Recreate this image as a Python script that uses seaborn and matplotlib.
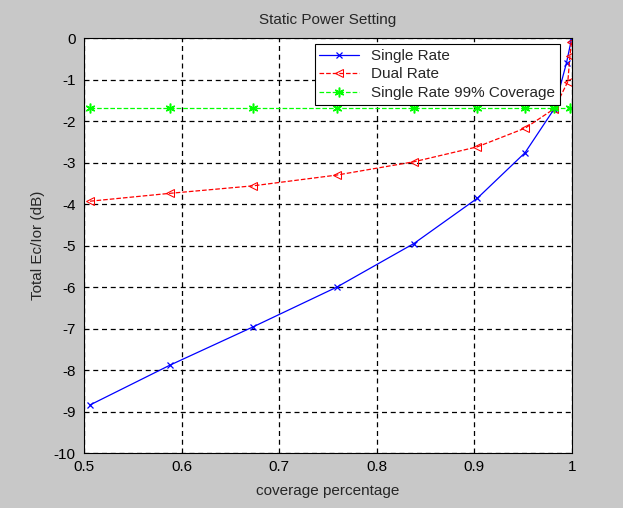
import matplotlib
matplotlib.use("Agg")
import matplotlib.pyplot as plt
import seaborn as sns

# values
x_single = [0.506, 0.588, 0.673, 0.759, 0.838, 0.903, 0.952, 0.982, 0.9945, 0.9995]
single_rate = [-8.84, -7.88, -6.96, -6.00, -4.95, -3.86, -2.76, -1.70, -0.59, -0.03]

x_dual = [0.506, 0.588, 0.673, 0.759, 0.838, 0.903, 0.952, 0.982, 0.9958, 0.998, 0.9995]
dual_rate = [-3.93, -3.74, -3.56, -3.30, -2.98, -2.62, -2.17, -1.70, -1.05, -0.43, -0.10]

x_cov = [0.506, 0.588, 0.673, 0.759, 0.838, 0.903, 0.952, 0.982, 0.998]
single_99 = [-1.69, -1.69, -1.69, -1.69, -1.69, -1.69, -1.69, -1.69, -1.69]

x_ticks = [0.5, 0.6, 0.7, 0.8, 0.9, 1.0]
x_ticklabels = ["0.5", "0.6", "0.7", "0.8", "0.9", "1"]
y_ticks = [0, -1, -2, -3, -4, -5, -6, -7, -8, -9, -10]

sns.set_style("white")
plt.rcParams["font.family"] = ["Liberation Sans", "DejaVu Sans"]
plt.rcParams["axes.unicode_minus"] = False

fig = plt.figure(figsize=(6.23, 5.08), dpi=100, facecolor="#c8c8c8")
ax = fig.add_axes([0.135, 0.108, 0.783, 0.817])
ax.set_facecolor("white")

sns.lineplot(x=x_single, y=single_rate, ax=ax, color="blue", marker="x",
             markersize=5, markeredgecolor="blue", markeredgewidth=0.9,
             linewidth=0.9, label="Single Rate")
sns.lineplot(x=x_dual, y=dual_rate, ax=ax, color="red", marker="<",
             markersize=6, markerfacecolor="none", markeredgecolor="red",
             linestyle="--", dashes=(4, 3), linewidth=0.9, label="Dual Rate")
sns.lineplot(x=x_cov, y=single_99, ax=ax, color="#00ff00", marker=(6, 2, 0),
             markersize=7, markeredgecolor="#00ff00", markeredgewidth=1.1,
             linestyle="--", dashes=(4, 3), linewidth=0.9,
             label="Single Rate 99% Coverage")

ax.set_xlim(0.5, 1.0)
ax.set_ylim(-10, 0)
ax.set_xticks(x_ticks)
ax.set_xticklabels(x_ticklabels)
ax.set_yticks(y_ticks)
ax.grid(True, color="black", linestyle=(0, (4, 3)), linewidth=0.9)
ax.tick_params(direction="in", length=4, labelsize=11, colors="black")
ax.tick_params(axis="x", pad=5)
ax.tick_params(axis="y", pad=6)
for s in ax.spines.values():
    s.set_color("black")
    s.set_linewidth(0.8)

ax.set_title("Static Power Setting", fontsize=11, pad=10)
ax.set_xlabel("coverage percentage", fontsize=11, labelpad=7)
ax.set_ylabel("Total Ec/Ior (dB)", fontsize=11, labelpad=6)

leg = ax.legend(loc="upper right", bbox_to_anchor=(0.975, 0.985), fontsize=11,
                frameon=True, fancybox=False, edgecolor="black",
                borderpad=0.3, labelspacing=0.3, handlelength=2.6,
                borderaxespad=0)
leg.get_frame().set_linewidth(0.8)
leg.get_frame().set_alpha(1)

fig.savefig("out.png", dpi=100, facecolor=fig.get_facecolor())
